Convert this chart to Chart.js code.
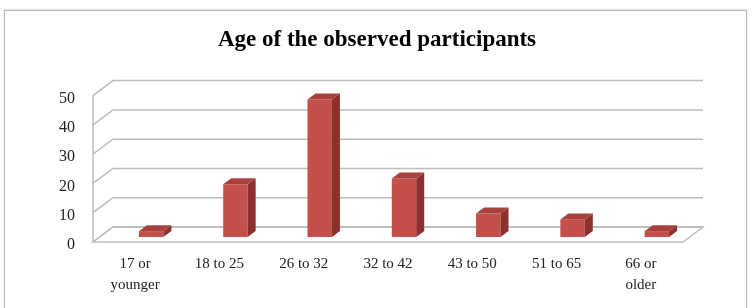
<!DOCTYPE html>
<html>
<head>
<meta charset="utf-8">
<script src="https://cdn.jsdelivr.net/npm/chart.js@4/dist/chart.umd.min.js"></script>
<style>
  html, body { margin: 0; padding: 0; background: #fff; }
  #wrap { position: relative; width: 754px; height: 308px; overflow: hidden; }
  #frame { position: absolute; left: 4px; top: 10px; width: 741px; height: 320px;
           border: 1px solid #b5b5b5; box-shadow: 0 -1px 2px #ddd; }
  canvas { position: absolute; left: 0; top: 0; }
</style>
</head>
<body>
<div id="wrap">
  <div id="frame"></div>
  <canvas id="chart" width="754" height="308"></canvas>
</div>
<script>
const categories = [['17 or', 'younger'], '18 to 25', '26 to 32', '32 to 42', '43 to 50', '51 to 65', ['66 or', 'older']];
const participants = [2, 18, 47, 20, 8, 6, 2];
const yTicks = [0, 10, 20, 30, 40, 50];

// fake 3d look, like the excel original
const wallDx = 20, wallDy = -15;
const barShiftX = 16, barShiftY = -5;
const depthX = 8, depthY = -6;

const fake3d = {
  id: 'fake3d',
  beforeDatasetsDraw(chart) {
    const ctx = chart.ctx;
    const a = chart.chartArea;
    const ys = chart.scales.y;
    ctx.save();
    ctx.strokeStyle = '#bcbcbc';
    ctx.lineWidth = 1.5;
    // floor
    ctx.beginPath();
    ctx.moveTo(a.left, a.bottom);
    ctx.lineTo(a.right, a.bottom);
    ctx.lineTo(a.right + wallDx, a.bottom + wallDy);
    ctx.lineTo(a.left + wallDx, a.bottom + wallDy);
    ctx.closePath();
    ctx.stroke();
    // back wall grid lines and side wall diagonals
    yTicks.forEach(v => {
      const y = ys.getPixelForValue(v);
      ctx.beginPath();
      ctx.moveTo(a.left, y);
      ctx.lineTo(a.left + wallDx, y + wallDy);
      ctx.lineTo(a.right + wallDx, y + wallDy);
      ctx.stroke();
    });
    ctx.beginPath();
    ctx.moveTo(a.left, a.top);
    ctx.lineTo(a.left, a.bottom);
    ctx.stroke();
    ctx.restore();

    ctx.save();
    ctx.translate(barShiftX, barShiftY);
  },
  afterDatasetsDraw(chart) {
    const ctx = chart.ctx;
    chart.getDatasetMeta(0).data.forEach(bar => {
      const p = bar.getProps(['x', 'y', 'base', 'width'], true);
      const l = p.x - p.width / 2, r = p.x + p.width / 2;
      ctx.fillStyle = '#8c302d';
      ctx.beginPath();
      ctx.moveTo(r, p.y);
      ctx.lineTo(r + depthX, p.y + depthY);
      ctx.lineTo(r + depthX, p.base + depthY);
      ctx.lineTo(r, p.base);
      ctx.closePath();
      ctx.fill();
      ctx.fillStyle = '#a8403c';
      ctx.beginPath();
      ctx.moveTo(l, p.y);
      ctx.lineTo(l + depthX, p.y + depthY);
      ctx.lineTo(r + depthX, p.y + depthY);
      ctx.lineTo(r, p.y);
      ctx.closePath();
      ctx.fill();
    });
    ctx.restore();
  }
};

new Chart(document.getElementById('chart'), {
  type: 'bar',
  data: {
    labels: categories,
    datasets: [{
      label: 'Participants',
      data: participants,
      backgroundColor: '#c4504c',
      barPercentage: 0.29,
      categoryPercentage: 1,
      clip: false
    }]
  },
  options: {
    responsive: false,
    animation: false,
    layout: { padding: 0 },
    plugins: {
      legend: { display: false },
      tooltip: { enabled: false },
      title: {
        display: true,
        text: 'Age of the observed participants',
        color: '#000',
        font: { family: 'Liberation Serif', size: 23, weight: 'bold' },
        padding: { top: 26, bottom: 42 }
      }
    },
    scales: {
      x: {
        grid: { display: false },
        border: { display: false },
        ticks: {
          color: '#222',
          font: { family: 'Liberation Serif', size: 15, lineHeight: 1.4 },
          padding: 4,
          maxRotation: 0,
          autoSkip: false
        },
        afterFit(scale) { scale.height = 66; }
      },
      y: {
        min: 0,
        max: 50,
        grid: { display: false },
        border: { display: false },
        afterBuildTicks(scale) { scale.ticks = yTicks.map(v => ({ value: v })); },
        ticks: {
          color: '#222',
          font: { family: 'Liberation Serif', size: 16 },
          padding: 10,
          labelOffset: 3
        },
        afterFit(scale) { scale.width = 93; }
      },
      // empty axis on the right so the plot stops short of the frame
      spacer: {
        axis: 'y',
        position: 'right',
        grid: { display: false },
        border: { display: false },
        ticks: { display: false },
        afterFit(scale) { scale.width = 71; }
      }
    }
  },
  plugins: [fake3d]
});
</script>
</body>
</html>
